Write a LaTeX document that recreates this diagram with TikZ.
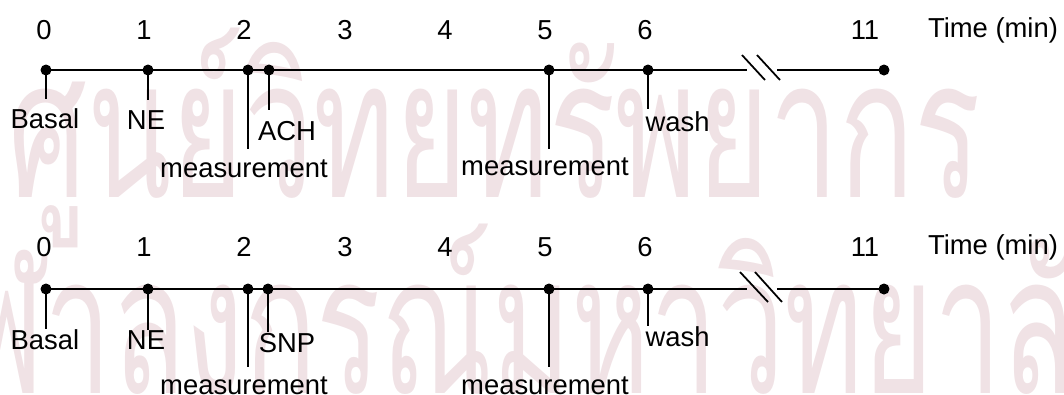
\documentclass[tikz,border=0pt]{standalone}
\usepackage{fontspec}
\setmainfont{Liberation Sans}
\newfontfamily\thaifont[Script=Thai]{Loma}
\usepackage{xcolor}
\definecolor{wmark}{RGB}{240,226,229}
\usetikzlibrary{positioning}

\begin{document}
\begin{tikzpicture}[
    font=\fontsize{7.8}{9}\selectfont,
    dot/.style={circle, fill=black, inner sep=0pt, minimum size=1.1mm},
    lbl/.style={inner sep=0pt},
    stem/.style={line width=0.5pt, shorten >=#1},
    stem/.default=0mm,
    axis/.style={line width=0.8pt},
    tail/.style={line width=0.5pt},
  ]
  \useasboundingbox (0,0) rectangle (10.64,-3.94);

  % Watermark
  \node[lbl, anchor=base west, text=wmark] (wmtop) at (0.08,-1.97)
    {\scalebox{0.64}[1]{\thaifont\fontsize{55}{60}\selectfont ศูนย์วิทยทรัพยากร}};
  \node[lbl, anchor=base west, text=wmark] (wmbot) at (-1.08,-3.93)
    {\scalebox{0.62}[1]{\thaifont\fontsize{55}{60}\selectfont จุฬาลงกรณ์มหาวิทยาลัย}};

  % ---------- Upper time line (ACH) ----------
  % Minutes
  \node[lbl] (t0) at (0.44,-0.30) {0};
  \node[lbl] (t1) at (1.44,-0.30) {1};
  \node[lbl] (t2) at (2.44,-0.30) {2};
  \node[lbl] (t3) at (3.45,-0.30) {3};
  \node[lbl] (t4) at (4.45,-0.30) {4};
  \node[lbl] (t5) at (5.45,-0.30) {5};
  \node[lbl] (t6) at (6.45,-0.30) {6};
  \node[lbl] (t11) at (8.65,-0.30) {11};
  \node[lbl] (ttime) at (9.93,-0.30) {Time (min)};

  % Line and break
  \coordinate (ubrka) at (7.47,-0.70);
  \coordinate (ubrkb) at (7.77,-0.70);
  \draw[axis] (0.46,-0.70) coordinate (ustart) -- (ubrka);
  \draw[tail] (ubrkb) -- (8.84,-0.70) coordinate (uend);
  \draw[tail] (7.42,-0.55) -- (7.65,-0.80);
  \draw[tail] (7.57,-0.55) -- (7.80,-0.80);

  % Events
  \node[dot] (u0) at (ustart) {};
  \node[dot] (u1) at (1.48,-0.70) {};
  \node[dot] (u2) at (2.48,-0.70) {};
  \node[dot] (uach) at (2.69,-0.70) {};
  \node[dot] (u5) at (5.49,-0.70) {};
  \node[dot] (u6) at (6.48,-0.70) {};
  \node[dot] (u11) at (uend) {};

  % Labels
  \node[lbl] (ubasal) at (0.45,-1.19) {Basal};
  \node[lbl] (une) at (1.46,-1.20) {NE};
  \node[lbl] (umeasa) at (2.44,-1.69) {measurement};
  \node[lbl] (uach_l) at (2.87,-1.31) {ACH};
  \node[lbl] (umeasb) at (5.45,-1.67) {measurement};
  \node[lbl, anchor=west] (uwash) at (6.45,-1.22) {wash};

  \draw[stem=0.9mm] (u0.center) -- (u0 |- ubasal.north);
  \draw[stem=1mm] (u1.center) -- (u1 |- une.north);
  \draw[stem=1mm] (u2.center) -- (u2 |- umeasa.north);
  \draw[stem=1.1mm] (uach.center) -- (uach |- uach_l.north);
  \draw[stem=0.8mm] (u5.center) -- (u5 |- umeasb.north);
  \draw[stem=0.2mm] (u6.center) -- (u6 |- uwash.north);

  % ---------- Lower time line (SNP) ----------
  % Minutes
  \node[lbl] (s0) at (0.44,-2.47) {0};
  \node[lbl] (s1) at (1.44,-2.47) {1};
  \node[lbl] (s2) at (2.44,-2.47) {2};
  \node[lbl] (s3) at (3.45,-2.47) {3};
  \node[lbl] (s4) at (4.45,-2.47) {4};
  \node[lbl] (s5) at (5.45,-2.47) {5};
  \node[lbl] (s6) at (6.45,-2.47) {6};
  \node[lbl] (s11) at (8.65,-2.47) {11};
  \node[lbl] (stime) at (9.93,-2.47) {Time (min)};

  % Line and break
  \coordinate (lbrka) at (7.47,-2.89);
  \coordinate (lbrkb) at (7.77,-2.89);
  \draw[axis] (0.46,-2.89) coordinate (lstart) -- (lbrka);
  \draw[tail] (lbrkb) -- (8.84,-2.89) coordinate (lend);
  \draw[tail] (7.40,-2.72) -- (7.68,-3.02);
  \draw[tail] (7.55,-2.72) -- (7.82,-3.02);

  % Events
  \node[dot] (l0) at (lstart) {};
  \node[dot] (l1) at (1.48,-2.89) {};
  \node[dot] (l2) at (2.48,-2.89) {};
  \node[dot] (lsnp) at (2.68,-2.89) {};
  \node[dot] (l5) at (5.49,-2.89) {};
  \node[dot] (l6) at (6.48,-2.89) {};
  \node[dot] (l11) at (lend) {};

  % Labels
  \node[lbl] (lbasal) at (0.45,-3.40) {Basal};
  \node[lbl] (lne) at (1.46,-3.40) {NE};
  \node[lbl] (lmeasa) at (2.44,-3.86) {measurement};
  \node[lbl] (lsnp_l) at (2.87,-3.43) {SNP};
  \node[lbl] (lmeasb) at (5.45,-3.86) {measurement};
  \node[lbl, anchor=west] (lwash) at (6.45,-3.37) {wash};

  \draw[stem] (l0.center) -- (l0 |- lbasal.north);
  \draw[stem] (l1.center) -- (l1 |- lne.north);
  \draw[stem=0.9mm] (l2.center) -- (l2 |- lmeasa.north);
  \draw[stem=0.1mm] (lsnp.center) -- (lsnp |- lsnp_l.north);
  \draw[stem=0.9mm] (l5.center) -- (l5 |- lmeasb.north);
  \draw[stem] (l6.center) -- (l6 |- lwash.north);
\end{tikzpicture}
\end{document}
